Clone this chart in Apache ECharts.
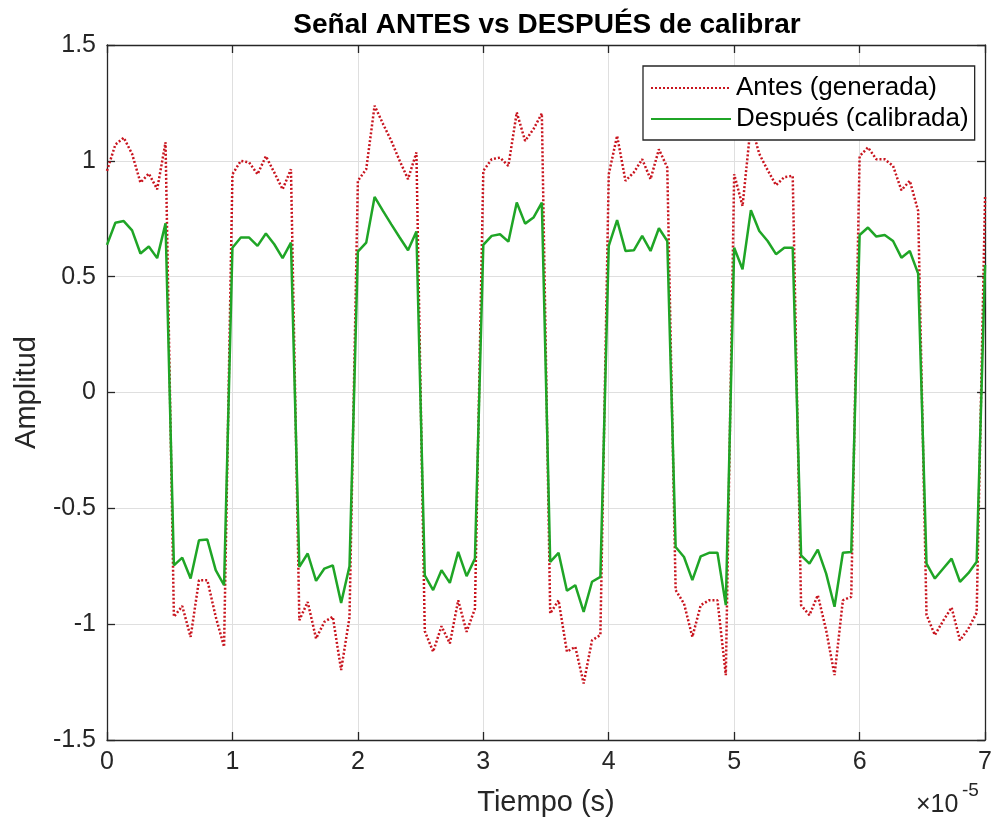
<!DOCTYPE html>
<html>
<head>
<meta charset="utf-8">
<script src="https://cdn.jsdelivr.net/npm/echarts@6/dist/echarts.min.js"></script>
<style>
  html, body { margin: 0; padding: 0; background: #ffffff; }
  #chart { width: 995px; height: 832px; }
</style>
</head>
<body>
<div id="chart"></div>
<script>
// Square wave sampled at 1.5 MHz (15 samples per 10 µs period).
// Time axis is expressed in units of 1e-5 s.
const samplePeriod = 1 / 15;

// Raw generated signal (before calibration)
const antes = [
  0.957, 1.07, 1.10, 1.03, 0.906, 0.945, 0.877, 1.08,
  -0.968, -0.922, -1.055, -0.81, -0.81, -0.968, -1.098,
  0.942, 1.0, 0.993, 0.942, 1.02, 0.95, 0.877, 0.964,
  -0.983, -0.904, -1.062, -0.99, -0.968, -1.198, -0.97,
  0.914, 0.964, 1.238, 1.16, 1.086, 1.0, 0.921, 1.036,
  -1.03, -1.119, -1.009, -1.083, -0.897, -1.033, -0.933,
  0.957, 1.007, 1.014, 0.978, 1.209, 1.086, 1.137, 1.205,
  -0.954, -0.897, -1.119, -1.098, -1.256, -1.07, -1.047,
  0.942, 1.108, 0.914, 0.95, 1.007, 0.921, 1.05, 0.971,
  -0.853, -0.911, -1.055, -0.918, -0.897, -0.897, -1.22,
  0.942, 0.805, 1.16, 1.03, 0.96, 0.895, 0.93, 0.935,
  -0.918, -0.961, -0.875, -1.026, -1.22, -0.897, -0.882,
  1.02, 1.058, 1.007, 1.007, 0.978, 0.873, 0.914, 0.784,
  -0.96, -1.047, -0.985, -0.928, -1.07, -1.02, -0.95,
  0.845
];

// Signal after calibration
const despues = [
  0.637, 0.733, 0.74, 0.70, 0.60, 0.63, 0.58, 0.73,
  -0.746, -0.713, -0.803, -0.638, -0.635, -0.767, -0.832,
  0.625, 0.669, 0.669, 0.633, 0.686, 0.64, 0.58, 0.647,
  -0.753, -0.695, -0.813, -0.76, -0.746, -0.908, -0.75,
  0.608, 0.647, 0.844, 0.784, 0.726, 0.669, 0.614, 0.695,
  -0.789, -0.853, -0.767, -0.822, -0.688, -0.793, -0.717,
  0.637, 0.676, 0.683, 0.651, 0.82, 0.729, 0.755, 0.82,
  -0.731, -0.692, -0.856, -0.832, -0.947, -0.817, -0.796,
  0.633, 0.744, 0.611, 0.614, 0.676, 0.611, 0.709, 0.654,
  -0.667, -0.71, -0.81, -0.707, -0.692, -0.692, -0.918,
  0.625, 0.532, 0.787, 0.697, 0.654, 0.597, 0.625, 0.625,
  -0.703, -0.739, -0.678, -0.782, -0.925, -0.692, -0.688,
  0.68, 0.712, 0.673, 0.68, 0.654, 0.582, 0.611, 0.513,
  -0.739, -0.803, -0.76, -0.717, -0.817, -0.78, -0.731,
  0.55
];

const xTicks = [0, 1, 2, 3, 4, 5, 6, 7];
const yTicks = [-1.5, -1, -0.5, 0, 0.5, 1, 1.5];

const FONT = '"Liberation Sans", Arial, Helvetica, sans-serif';
const AXIS_COLOR = '#262626';
const GRID_COLOR = '#dfdfdf';

const pairs = (vals) => vals.map((v, k) => [k * samplePeriod, v]);

const chart = echarts.init(document.getElementById('chart'), null, { renderer: 'canvas' });

const boxLine = { show: true, onZero: false, lineStyle: { color: AXIS_COLOR, width: 1.3 } };
const boxTick = { show: true, inside: true, length: 8, lineStyle: { color: AXIS_COLOR, width: 1.3 } };

chart.setOption({
  animation: false,
  backgroundColor: '#ffffff',
  title: {
    text: 'Señal ANTES vs DESPUÉS de calibrar',
    left: 542,
    textAlign: 'center',
    top: 6,
    textStyle: { fontFamily: FONT, fontSize: 28, fontWeight: 'bold', color: '#000000' }
  },
  grid: { left: 107, top: 45, width: 880, height: 695, containLabel: false },
  legend: {
    left: 643,
    top: 66,
    orient: 'vertical',
    backgroundColor: '#ffffff',
    borderColor: AXIS_COLOR,
    borderWidth: 1.3,
    borderRadius: 0,
    padding: [9, 6, 8, 7],
    itemGap: 5,
    itemWidth: 80,
    itemHeight: 22,
    itemStyle: { opacity: 0 },
    textStyle: { fontFamily: FONT, fontSize: 26, color: '#000000' },
    data: ['Antes (generada)', 'Después (calibrada)']
  },
  xAxis: [
    {
      type: 'value', position: 'bottom', min: xTicks[0], max: xTicks[xTicks.length - 1], interval: 1,
      axisLine: boxLine, axisTick: boxTick,
      axisLabel: { color: AXIS_COLOR, fontSize: 25, fontFamily: FONT, margin: 10 },
      splitLine: { show: true, lineStyle: { color: GRID_COLOR, width: 1 } },
      name: 'Tiempo (s)', nameLocation: 'middle', nameGap: 48,
      nameTextStyle: { color: AXIS_COLOR, fontSize: 29, fontFamily: FONT }
    },
    {
      type: 'value', position: 'top', min: xTicks[0], max: xTicks[xTicks.length - 1], interval: 1,
      axisLine: boxLine, axisTick: boxTick, axisLabel: { show: false }, splitLine: { show: false }
    }
  ],
  yAxis: [
    {
      type: 'value', position: 'left', min: yTicks[0], max: yTicks[yTicks.length - 1], interval: 0.5,
      axisLine: boxLine, axisTick: boxTick,
      axisLabel: { color: AXIS_COLOR, fontSize: 25, fontFamily: FONT, margin: 11 },
      splitLine: { show: true, lineStyle: { color: GRID_COLOR, width: 1 } },
      name: 'Amplitud', nameLocation: 'middle', nameGap: 66, nameRotate: 90,
      nameTextStyle: { color: AXIS_COLOR, fontSize: 29, fontFamily: FONT }
    },
    {
      type: 'value', position: 'right', min: yTicks[0], max: yTicks[yTicks.length - 1], interval: 0.5,
      axisLine: boxLine, axisTick: boxTick, axisLabel: { show: false }, splitLine: { show: false }
    }
  ],
  series: [
    {
      name: 'Antes (generada)',
      type: 'line',
      data: pairs(antes),
      symbol: 'none',
      z: 3,
      lineStyle: { color: '#c8141e', width: 2.5, type: [2, 2] },
      itemStyle: { color: '#c8141e' }
    },
    {
      name: 'Después (calibrada)',
      type: 'line',
      data: pairs(despues),
      symbol: 'none',
      z: 4,
      lineStyle: { color: '#1fa526', width: 2.5 },
      itemStyle: { color: '#1fa526' }
    }
  ],
  graphic: [
    {
      type: 'text', left: 916, top: 793,
      style: { text: '×10', fontFamily: FONT, fontSize: 25, fill: AXIS_COLOR }
    },
    {
      type: 'text', left: 962, top: 781,
      style: { text: '-5', fontFamily: FONT, fontSize: 19, fill: AXIS_COLOR }
    }
  ]
});
</script>
</body>
</html>
